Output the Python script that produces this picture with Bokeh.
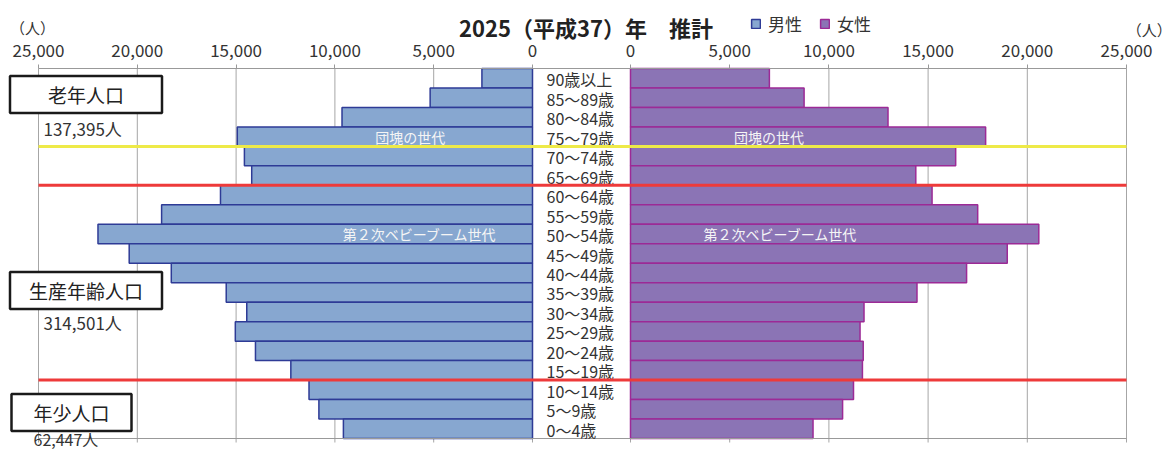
from bokeh.plotting import figure
from bokeh.models import (Range1d, LinearAxis, FixedTicker, NumeralTickFormatter,
                          Label, Legend, LegendItem)
from bokeh.core.properties import value
from bokeh.embed import file_html
from bokeh.resources import INLINE

# ---------------- data ----------------
ages = ["90歳以上", "85～89歳", "80～84歳", "75～79歳", "70～74歳", "65～69歳",
        "60～64歳", "55～59歳", "50～54歳", "45～49歳", "40～44歳", "35～39歳",
        "30～34歳", "25～29歳", "20～24歳", "15～19歳", "10～14歳", "5～9歳", "0～4歳"]
male = [2560, 5180, 9640, 14940, 14580, 14210,
        15790, 18770, 21990, 20410, 18280, 15500,
        14460, 15040, 14020, 12230, 11310, 10810, 9570]
female = [7000, 8750, 12980, 17900, 16390, 14380,
          15200, 17500, 20580, 18990, 16940, 14440,
          11770, 11570, 11730, 11690, 11240, 10690, 9200]
ticks = [0, 5000, 10000, 15000, 20000, 25000]
series = ["男性", "女性"]
title_text = "2025（平成37）年　推計"
unit_text = "（人）"
groups = ["老年人口", "生産年齢人口", "年少人口"]
group_totals = ["137,395人", "314,501人", "62,447人"]
gen_labels = ["団塊の世代", "第２次ベビーブーム世代"]
gen_rows = ["75～79歳", "50～54歳"]
# group boundaries (row boundaries between age classes, counted from bottom)
boundaries = [3, 13, 15]

# ---------------- layout / style ----------------
W, H = 1175, 449
LX0, LX1 = 38, 532      # left panel: pixel of max value, pixel of zero
RX0, RX1 = 630, 1126    # right panel: pixel of zero, pixel of max value
TOP, BOT = 68, 438      # pixel rows of the plotting band
MAXV = 25000
n = len(ages)
unit = (BOT - TOP) / n

FONT = "Noto Sans CJK JP"
TXT = "#333333"
GRID = "#a6a6a6"
M_FILL, M_LINE = "#87a7d0", "#2e3b96"
F_FILL, F_LINE = "#8b74b5", "#9c2a96"
YELLOW, RED = "#eeea48", "#ee3a3a"


def left_val(px):
    return MAXV * (LX1 - px) / (LX1 - LX0)


def right_val(px):
    return MAXV * (px - RX0) / (RX1 - RX0)


p = figure(width=W, height=H, output_backend="svg", toolbar_location=None,
           x_range=Range1d(left_val(0), left_val(W)),
           y_range=Range1d((BOT - H) / unit, BOT / unit),
           min_border=0, x_axis_location=None, y_axis_location=None)
p.extra_x_ranges = {"right": Range1d(right_val(0), right_val(W))}
p.outline_line_color = None
p.xgrid.grid_line_color = None
p.ygrid.grid_line_color = None

ys = [n - 0.5 - i for i in range(n)]
tick_ext = 4 / unit

# vertical grid lines (extend slightly below the band, like outward ticks)
p.segment(x0=ticks, x1=ticks, y0=[-tick_ext] * len(ticks), y1=[n] * len(ticks),
          line_color=GRID, line_width=1)
p.segment(x0=ticks, x1=ticks, y0=[-tick_ext] * len(ticks), y1=[n] * len(ticks),
          line_color=GRID, line_width=1, x_range_name="right")

# bars
rm = p.hbar(y=ys, left=0, right=male, height=1.0, fill_color=M_FILL, line_color=M_LINE, line_width=1.5)
rf = p.hbar(y=ys, left=0, right=female, height=1.0, fill_color=F_FILL, line_color=F_LINE, line_width=1.5,
            x_range_name="right")

# top axes with tick labels
full_span = (left_val(RX1), MAXV)
for rn in ["default", "right"]:
    ax = LinearAxis(ticker=FixedTicker(ticks=ticks), formatter=NumeralTickFormatter(format="0,0"),
                    x_range_name=rn, fixed_location=n,
                    major_tick_in=0, major_tick_out=4, major_label_standoff=8,
                    axis_line_color="#999999", major_tick_line_color="#999999",
                    major_label_text_font=FONT, major_label_text_font_size="17px",
                    major_label_text_color=TXT)
    if rn == "default":
        ax.bounds = full_span
    else:
        ax.axis_line_color = None
    p.add_layout(ax, "above")

# bottom axis line
p.segment(x0=[MAXV], x1=[left_val(RX1)], y0=[0], y1=[0], line_color="#999999", line_width=1)

# age labels in the centre column
ys_by_age = dict(zip(ages, ys))
p.text(x=[0] * n, y=ys, text=ages, x_offset=14, y_offset=1, text_align="left", text_baseline="middle",
       text_font=value(FONT), text_font_size="16px", text_color=TXT)

# generation labels inside bars
gy = [ys_by_age[a] for a in gen_rows]
p.text(x=[6190, 5710], y=gy, text=gen_labels, text_align="center", text_baseline="middle",
       text_font=value(FONT), text_font_size="14px", text_color="#f5f5f5")
p.text(x=[6980, 7560], y=gy, text=gen_labels, text_align="center", text_baseline="middle",
       text_font=value(FONT), text_font_size="14px", text_color="#f5f5f5", x_range_name="right")

# separators between population groups
sep_colors = [RED, RED, YELLOW]
p.segment(x0=[MAXV] * 3, x1=[left_val(RX1)] * 3, y0=boundaries, y1=boundaries,
          line_color=sep_colors, line_width=3)

# group boxes and totals (screen units measured from bottom-left of the canvas)
box_specs = [(85.5, H - 94, 38), (85.5, H - 290, 19), (71, H - 412, 22)]
for (bx, by, padx), g in zip(box_specs, groups):
    p.add_layout(Label(x=bx, y=by, x_units="screen", y_units="screen", text=g,
                       text_align="center", text_baseline="middle", text_font=FONT,
                       text_font_size="19px", text_color="#222222",
                       border_line_color="#1a1a1a", border_line_width=2.5,
                       background_fill_color="white",
                       padding=dict(left=padx, right=padx, top=5, bottom=5)))
tot_specs = [(43, H - 128, "17px"), (43, H - 322, "17px"), (33, H - 438, "16px")]
for (tx, ty, fs), t in zip(tot_specs, group_totals):
    p.add_layout(Label(x=tx, y=ty, x_units="screen", y_units="screen", text=t,
                       text_align="left", text_baseline="middle", text_font=FONT,
                       text_font_size=fs, text_color=TXT))

# title and unit labels
p.add_layout(Label(x=585.5, y=H - 26, x_units="screen", y_units="screen", text=title_text,
                   text_align="center", text_baseline="middle", text_font=FONT,
                   text_font_size="22px", text_font_style="bold", text_color="#222222"))
p.add_layout(Label(x=32, y=H - 27, x_units="screen", y_units="screen", text=unit_text,
                   text_align="center", text_baseline="middle", text_font=FONT,
                   text_font_size="15px", text_color=TXT))
p.add_layout(Label(x=1148.7, y=H - 28.5, x_units="screen", y_units="screen", text=unit_text,
                   text_align="center", text_baseline="middle", text_font=FONT,
                   text_font_size="15px", text_color=TXT))

# legend
legend = Legend(items=[LegendItem(label=series[0], renderers=[rm]),
                       LegendItem(label=series[1], renderers=[rf])],
                location=(750, H - 36), orientation="horizontal",
                glyph_width=11, glyph_height=11, label_standoff=7, spacing=17,
                padding=0, margin=0, border_line_color=None, background_fill_alpha=0,
                label_text_font=FONT, label_text_font_size="17px", label_text_color=TXT)
p.add_layout(legend)

open("out.html", "w").write(file_html(p, INLINE))
